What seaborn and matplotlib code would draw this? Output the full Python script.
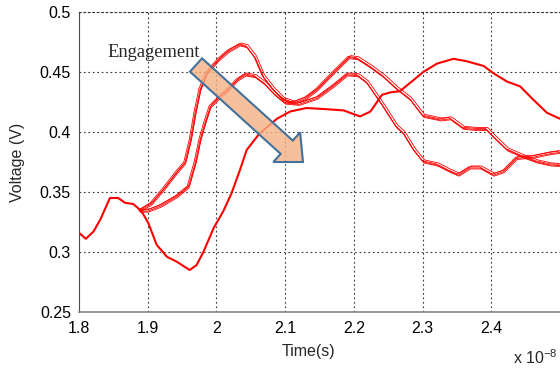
import numpy as np
import pandas as pd
import matplotlib
matplotlib.use("Agg")
import matplotlib.pyplot as plt
import seaborn as sns
from matplotlib.patches import FancyArrow
from matplotlib.transforms import IdentityTransform

# time in units of 1e-8 s, voltage in V
ref_t = [1.800, 1.810, 1.821, 1.831, 1.845, 1.857, 1.867, 1.879, 1.891, 1.901,
         1.913, 1.928, 1.942, 1.961, 1.971, 1.981, 1.996, 2.010, 2.022, 2.034,
         2.044, 2.063, 2.088, 2.107, 2.131, 2.160, 2.185, 2.209, 2.224, 2.241,
         2.253, 2.267, 2.282, 2.301, 2.321, 2.345, 2.364, 2.389, 2.403, 2.423,
         2.442, 2.461, 2.481, 2.500]
ref_v = [0.316, 0.311, 0.317, 0.327, 0.345, 0.345, 0.341, 0.340, 0.334, 0.324,
         0.306, 0.296, 0.292, 0.285, 0.289, 0.300, 0.320, 0.334, 0.349, 0.368,
         0.385, 0.399, 0.411, 0.417, 0.420, 0.419, 0.418, 0.413, 0.417, 0.431,
         0.433, 0.434, 0.441, 0.450, 0.457, 0.461, 0.459, 0.455, 0.449, 0.442,
         0.438, 0.427, 0.416, 0.411]

# upper bundle (first peak ~0.472)
a_t = [1.888, 1.905, 1.923, 1.942, 1.954, 1.962, 1.969, 1.976, 1.986, 2.003,
       2.017, 2.034, 2.044, 2.056, 2.068, 2.083, 2.097, 2.112, 2.130, 2.146,
       2.170, 2.193, 2.205, 2.224, 2.243, 2.262, 2.282, 2.301, 2.326, 2.340,
       2.359, 2.379, 2.393, 2.403, 2.423, 2.447, 2.466, 2.486, 2.500]
a_v = [0.334, 0.340, 0.352, 0.366, 0.374, 0.393, 0.416, 0.435, 0.449, 0.460,
       0.467, 0.4725, 0.471, 0.462, 0.446, 0.435, 0.427, 0.424, 0.428, 0.435,
       0.449, 0.462, 0.461, 0.454, 0.446, 0.436, 0.427, 0.413, 0.410, 0.411,
       0.403, 0.402, 0.402, 0.396, 0.385, 0.379, 0.375, 0.3725, 0.372]

# lower bundle (first peak ~0.447)
b_t = [1.888, 1.900, 1.918, 1.942, 1.959, 1.969, 1.976, 1.983, 1.991, 2.005,
       2.017, 2.030, 2.042, 2.056, 2.070, 2.085, 2.100, 2.120, 2.146, 2.170,
       2.190, 2.205, 2.219, 2.243, 2.262, 2.272, 2.287, 2.301, 2.321, 2.340,
       2.352, 2.369, 2.384, 2.403, 2.418, 2.437, 2.461, 2.486, 2.500]
b_v = [0.334, 0.334, 0.338, 0.346, 0.354, 0.374, 0.393, 0.407, 0.421, 0.429,
       0.435, 0.443, 0.4475, 0.446, 0.440, 0.431, 0.424, 0.423, 0.428, 0.438,
       0.4475, 0.447, 0.441, 0.421, 0.404, 0.399, 0.385, 0.375, 0.3725, 0.367,
       0.364, 0.370, 0.370, 0.364, 0.367, 0.378, 0.379, 0.382, 0.383]

# spread between repeated traces in a bundle
trace_dt = [0.0, -0.0015, 0.001, 0.002]
trace_dv = [0.0, 0.001, -0.0008, 0.0017]

x_ticks = [1.8, 1.9, 2.0, 2.1, 2.2, 2.3, 2.4]
x_labels = ["1.8", "1.9", "2", "2.1", "2.2", "2.3", "2.4"]
y_ticks = [0.25, 0.3, 0.35, 0.4, 0.45, 0.5]
y_labels = ["0.25", "0.3", "0.35", "0.4", "0.45", "0.5"]

sns.set_style("white")
plt.rcParams["font.family"] = ["Liberation Sans", "DejaVu Sans"]
plt.rcParams["mathtext.default"] = "regular"

fig = plt.figure(figsize=(5.6, 3.72), dpi=100)
ax = fig.add_axes([79 / 560, 60 / 372, 481 / 560, 300 / 372])

# repeated traces, thin
for t, v in [(a_t, a_v), (b_t, b_v)]:
    for dt, dv in zip(trace_dt, trace_dv):
        sns.lineplot(x=np.array(t) + dt, y=np.array(v) + dv, ax=ax,
                     color="#ff0000", lw=0.6, estimator=None, sort=False)

# reference trace, thick
sns.lineplot(x=ref_t, y=ref_v, ax=ax, color="#ff0000", lw=1.5,
             estimator=None, sort=False)

ax.set_xlim(1.8, 2.5)
ax.set_ylim(0.25, 0.5)
ax.set_xticks(x_ticks)
ax.set_xticklabels(x_labels)
ax.set_yticks(y_ticks)
ax.set_yticklabels(y_labels)

dots = (0, (1.5, 2.5))
ax.grid(True, color="0.2", linestyle=dots, linewidth=0.8)
ax.spines["right"].set_visible(False)
ax.spines["top"].set_linestyle(dots)
ax.spines["top"].set_color("0.2")
ax.spines["top"].set_linewidth(0.8)
ax.spines["left"].set_color("0.3")
ax.spines["left"].set_linewidth(0.8)
ax.spines["bottom"].set_color("0.5")
ax.spines["bottom"].set_linewidth(1.1)

ax.tick_params(axis="both", direction="in", length=4, width=0.8,
               color="0.25", labelsize=11.5, labelcolor="black")
ax.tick_params(axis="x", pad=6.5)
ax.tick_params(axis="y", pad=5.8)

ax.set_xlabel("Time(s)", fontsize=11.5)
ax.xaxis.set_label_coords(0.478, -0.133)
ax.xaxis.label.set_va("center")
ax.set_ylabel("Voltage (V)", fontsize=11.5)
ax.yaxis.set_label_coords(-0.127, 0.5)
ax.yaxis.label.set_va("center")

fig.text(513 / 560, 1 - 358 / 372, "x 10$^{-8}$", fontsize=11.5,
         ha="left", va="center")

# annotation
fig.text(107 / 560, 1 - 57 / 372, "Engagement", family="Liberation Serif",
         fontsize=13.3, ha="left", va="baseline")
arrow = FancyArrow(196, 372 - 65, 107, -97, width=18, head_width=40,
                   head_length=22, length_includes_head=True,
                   facecolor=(0.957, 0.694, 0.514, 0.8), edgecolor="#41719C",
                   linewidth=1.5, transform=IdentityTransform())
fig.add_artist(arrow)

fig.savefig("out.png", dpi=100)
